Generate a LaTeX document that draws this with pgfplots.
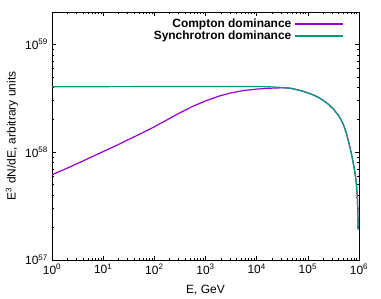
\documentclass[border=0pt]{standalone}
\usepackage{pgfplots}
\pgfplotsset{compat=1.18}
\usepackage{fontspec}
\setmainfont{Liberation Sans}
\definecolor{compton}{HTML}{9400D3}
\definecolor{synch}{HTML}{009E73}
\begin{document}
\fontsize{12}{14}\selectfont
\begin{tikzpicture}
\useasboundingbox (-52bp,-39bp) rectangle (329bp,260bp);
\begin{axis}[
  scale only axis,
  width=307bp, height=248bp,
  xmode=log, ymode=log,
  xmin=1, xmax=1e6,
  ymin=1e57, ymax=2e59,
  xtick={1,10,100,1000,10000,100000,1000000},
  xticklabels={10\textsuperscript{0},10\textsuperscript{1},10\textsuperscript{2},10\textsuperscript{3},10\textsuperscript{4},10\textsuperscript{5},10\textsuperscript{6}},
  ytick={1e57,1e58,1e59},
  yticklabels={10\textsuperscript{57},10\textsuperscript{58},10\textsuperscript{59}},
  major tick length=4bp,
  minor tick length=2bp,
  tick style={black, line width=0.5bp},
  axis line style={line width=0.8bp},
  xlabel={E, GeV},
  ylabel={E\textsuperscript{3} dN/dE, arbitrary units},
  x label style={at={(axis description cs:0.5,0)}, anchor=center, yshift=-30bp},
  y label style={at={(axis description cs:-0.1303,0.5)}, anchor=center},
  legend style={draw=none, fill=none, at={(1,1)}, anchor=north east,
    xshift=-12bp, yshift=-4.5bp, font=\bfseries,
    row sep=1.0bp, nodes={inner ysep=0.2bp, inner xsep=3bp}},
  legend cell align=right,
  legend plot pos=right,
  legend image code/.code={\draw[#1, line width=1.5bp] (0bp,0bp) -- (48bp,0bp);},
]
\addplot[compton, line width=1.2bp] coordinates {
(1,6.17e57) (1.778,6.95e57) (3.162,7.85e57) (5.623,8.91e57) (10,1.012e58)
(17.78,1.148e58) (31.62,1.312e58) (56.23,1.496e58) (100,1.718e58)
(177.8,1.995e58) (316.2,2.317e58) (562.3,2.661e58) (1000,2.985e58)
(1778,3.296e58) (3162,3.548e58) (5623,3.733e58) (10000,3.846e58)
(17780,3.917e58) (31620,3.954e58) (44670,3.92e58)
(63100,3.784e58) (79430,3.673e58) (100000,3.548e58) (125900,3.404e58)
(158500,3.236e58) (199500,3.020e58) (251200,2.786e58) (316200,2.512e58)
(398100,2.188e58) (446700,1.995e58) (501200,1.778e58) (562300,1.514e58)
(631000,1.230e58) (707900,9.77e57) (794300,7.41e57) (851100,6.03e57)
(891300,5.01e57) (922600,3.98e57) (944100,3.02e57) (961600,1.91e57)
};
\addlegendentry{Compton dominance}
\addplot[synch, line width=1.2bp] coordinates {
(1,4.04e58) (100,4.06e58) (10000,4.07e58) (19950,4.03e58) (31620,3.98e58)
(44670,3.93e58)
(63100,3.784e58) (79430,3.673e58) (100000,3.548e58) (125900,3.404e58)
(158500,3.236e58) (199500,3.020e58) (251200,2.786e58) (316200,2.512e58)
(398100,2.188e58) (446700,1.995e58) (501200,1.778e58) (562300,1.514e58)
(631000,1.230e58) (707900,9.77e57) (794300,7.41e57) (851100,6.03e57)
(891300,5.01e57) (922600,3.98e57) (944100,3.02e57) (961600,1.91e57)
};
\addlegendentry{Synchrotron dominance}
\end{axis}
\end{tikzpicture}
\end{document}
